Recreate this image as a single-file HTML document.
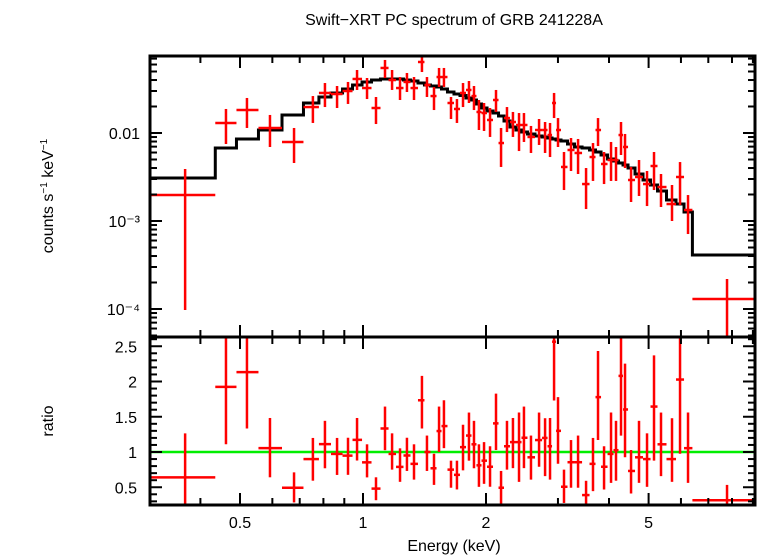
<!DOCTYPE html>
<html><head><meta charset="utf-8"><style>
html,body{margin:0;padding:0;background:#fff;}
svg{display:block;font-family:"Liberation Sans",sans-serif;}
</style></head><body>
<svg id="chart" width="758" height="556" viewBox="0 0 758 556">
<defs>
<clipPath id="clipTop"><rect x="150" y="56" width="605" height="281"/></clipPath>
<clipPath id="clipBot"><rect x="150" y="337" width="605" height="168"/></clipPath>
</defs>
<text x="454" y="25" font-size="16" text-anchor="middle">Swift−XRT PC spectrum of GRB 241228A</text>
<g id="top"></g>
<g id="bot"></g>
<g id="axes"></g>
<text x="454" y="551" font-size="16" text-anchor="middle">Energy (keV)</text>
<text transform="translate(53,196) rotate(-90)" font-size="16" text-anchor="middle">counts s<tspan font-size="10" dy="-6">−1</tspan><tspan dy="6"> keV</tspan><tspan font-size="10" dy="-6">−1</tspan></text>
<text transform="translate(53,421) rotate(-90)" font-size="16" text-anchor="middle">ratio</text>
</svg>
<script>
const energy=[0.367,0.462,0.520,0.592,0.678,0.754,0.807,0.864,0.919,0.967,1.023,1.076,1.132,1.178,1.232,1.281,1.333,1.394,1.434,1.492,1.535,1.578,1.642,1.698,1.757,1.817,1.869,1.922,1.978,2.046,2.116,2.177,2.251,2.328,2.409,2.477,2.577,2.697,2.790,2.869,2.935,3.001,3.104,3.229,3.360,3.515,3.655,3.760,3.890,4.046,4.161,4.280,4.378,4.529,4.737,4.956,5.155,5.362,5.705,5.969,6.244,7.779];
const logFlux=[-2.705,-1.886,-1.739,-1.943,-2.102,-1.705,-1.545,-1.557,-1.523,-1.386,-1.489,-1.716,-1.261,-1.398,-1.489,-1.420,-1.489,-1.193,-1.455,-1.580,-1.364,-1.364,-1.659,-1.727,-1.545,-1.511,-1.580,-1.761,-1.773,-1.852,-1.625,-2.114,-1.830,-1.875,-1.909,-1.909,-2.045,-1.966,-1.966,-2.023,-1.659,-1.966,-2.386,-2.193,-2.227,-2.580,-2.273,-1.966,-2.352,-2.307,-2.307,-2.023,-2.159,-2.534,-2.500,-2.580,-2.375,-2.614,-2.807,-2.500,-2.875,-3.886];
const logFluxHi=[-2.409,-1.727,-1.602,-1.795,-1.943,-1.580,-1.432,-1.466,-1.420,-1.284,-1.375,-1.591,-1.170,-1.284,-1.364,-1.318,-1.364,-1.114,-1.364,-1.477,-1.261,-1.261,-1.591,-1.614,-1.432,-1.409,-1.466,-1.625,-1.659,-1.716,-1.511,-1.943,-1.705,-1.761,-1.773,-1.773,-1.920,-1.841,-1.875,-1.886,-1.545,-1.830,-2.216,-2.057,-2.068,-2.398,-2.114,-1.830,-2.216,-2.102,-2.159,-1.875,-2.011,-2.386,-2.307,-2.432,-2.216,-2.466,-2.591,-2.330,-2.705,-3.659];
const logFluxLo=[-4.011,-2.125,-1.943,-2.159,-2.341,-1.886,-1.705,-1.716,-1.670,-1.511,-1.614,-1.898,-1.375,-1.511,-1.625,-1.534,-1.625,-1.307,-1.591,-1.739,-1.477,-1.477,-1.841,-1.886,-1.705,-1.659,-1.739,-1.966,-1.977,-2.045,-1.761,-2.386,-1.989,-2.045,-2.205,-2.102,-2.227,-2.136,-2.227,-2.273,-1.830,-2.159,-2.648,-2.432,-2.466,-2.864,-2.545,-2.148,-2.580,-2.545,-2.545,-2.250,-2.398,-2.784,-2.716,-2.830,-2.648,-2.841,-3.000,-2.818,-3.148,-4.600];
const logModel=[-2.511,-2.170,-2.068,-1.966,-1.795,-1.659,-1.591,-1.545,-1.500,-1.455,-1.420,-1.398,-1.386,-1.386,-1.386,-1.398,-1.409,-1.432,-1.455,-1.466,-1.477,-1.500,-1.534,-1.557,-1.574,-1.602,-1.625,-1.670,-1.716,-1.750,-1.773,-1.807,-1.864,-1.932,-1.966,-1.989,-2.011,-2.034,-2.045,-2.057,-2.068,-2.080,-2.091,-2.125,-2.159,-2.170,-2.193,-2.216,-2.250,-2.295,-2.318,-2.341,-2.364,-2.398,-2.466,-2.534,-2.591,-2.659,-2.761,-2.807,-2.898,-3.386];
const eLow=0.302, eHigh=9.2, firstBinHigh=0.435, lastBinLow=6.4;
const yTickLabels=["10⁻⁴","10⁻³","0.01"];
const ratioTicks=[0.5,1,1.5,2,2.5];
const xTicks=[0.5,1,2,5];

const NS="http://www.w3.org/2000/svg";
const L=150,R=755,T=56,MID=337,B=505;
const xs=e=>363+408.6*Math.log10(e);
const yTop=lf=>133-88*(lf+2);
const yBot=r=>452-70.5*(r-1);
function mk(tag,attrs,parent){const el=document.createElementNS(NS,tag);for(const k in attrs)el.setAttribute(k,attrs[k]);parent.appendChild(el);return el;}
const topG=document.getElementById('top'),botG=document.getElementById('bot'),ax=document.getElementById('axes');
const gT=mk('g',{'clip-path':'url(#clipTop)'},topG);
const gB=mk('g',{'clip-path':'url(#clipBot)'},botG);
const n=energy.length;
const edges=[];
edges.push(eLow);
for(let i=0;i<n-1;i++)edges.push(Math.sqrt(energy[i]*energy[i+1]));
edges.push(eHigh);
edges[1]=firstBinHigh;
edges[n-1]=lastBinLow;
let d="";
for(let i=0;i<n;i++){const y=yTop(logModel[i]);d+=(i?"L":"M")+xs(edges[i])+","+y+"L"+xs(edges[i+1])+","+y;}
const mp=mk('path',{d:d,fill:'none',stroke:'#000','stroke-width':3},gT);


const gl=mk('line',{x1:L,x2:R,y1:yBot(1),y2:yBot(1),stroke:'#00ee00','stroke-width':2.5},gB);


for(let i=0;i<n;i++){
  const x=xs(energy[i]),x0=xs(edges[i]),x1=xs(edges[i+1]);
  const g=mk('g',{stroke:'#ff0000','stroke-width':2.5},gT);
  
  
  mk('line',{x1:x0,x2:x1,y1:yTop(logFlux[i]),y2:yTop(logFlux[i])},g);
  mk('line',{x1:x,x2:x,y1:yTop(logFluxHi[i]),y2:yTop(logFluxLo[i])},g);
  const r=Math.pow(10,logFlux[i]-logModel[i]);
  const rh=Math.pow(10,logFluxHi[i]-logModel[i]);
  const rl=Math.pow(10,logFluxLo[i]-logModel[i]);
  const g2=mk('g',{stroke:'#ff0000','stroke-width':2.5},gB);
  
  
  mk('line',{x1:x0,x2:x1,y1:yBot(r),y2:yBot(r)},g2);
  mk('line',{x1:x,x2:x,y1:yBot(rh),y2:yBot(rl)},g2);
}
const f1=mk('rect',{x:L,y:T,width:R-L,height:MID-T,fill:'none',stroke:'#000','stroke-width':3},ax);


const f2=mk('rect',{x:L,y:MID,width:R-L,height:B-MID,fill:'none',stroke:'#000','stroke-width':3},ax);


const tk=mk('g',{stroke:'#000','stroke-width':2},ax);
const minorE=[0.4,0.6,0.7,0.8,0.9,3,4,6,7,8,9];
for(const e of minorE){const x=xs(e);for(const [a,dir] of [[T,1],[MID,-1],[MID,1],[B,-1]])mk('line',{x1:x,x2:x,y1:a,y2:a+dir*7},tk);}
for(const e of xTicks){const x=xs(e);for(const [a,dir] of [[T,1],[MID,-1],[MID,1],[B,-1]])mk('line',{x1:x,x2:x,y1:a,y2:a+dir*12},tk);}
xTicks.forEach(e=>{const t=mk('text',{x:xs(e),y:528,'font-size':16,'text-anchor':'middle'},ax);t.textContent=String(e);});
for(let dec=-5;dec<=-1;dec++){for(let m=1;m<10;m++){const lf=dec+Math.log10(m);const y=yTop(lf);if(y<T||y>MID)continue;const len=m===1?12:7;mk('line',{x1:L,x2:L+len,y1:y,y2:y},tk);mk('line',{x1:R,x2:R-len,y1:y,y2:y},tk);}}
[-4,-3,-2].forEach((dec,i)=>{const t=mk('text',{x:140,y:yTop(dec)+6,'font-size':16,'text-anchor':'end'},ax);t.textContent=yTickLabels[i];});
for(let k=3;k<=26;k++){const r=k/10;const y=yBot(r);if(y<MID||y>B)continue;const major=(k%5===0);const len=major?12:7;mk('line',{x1:L,x2:L+len,y1:y,y2:y},tk);mk('line',{x1:R,x2:R-len,y1:y,y2:y},tk);}
ratioTicks.forEach(r=>{const t=mk('text',{x:137,y:yBot(r)+6,'font-size':16,'text-anchor':'end'},ax);t.textContent=String(r);});
</script>
</body></html>
